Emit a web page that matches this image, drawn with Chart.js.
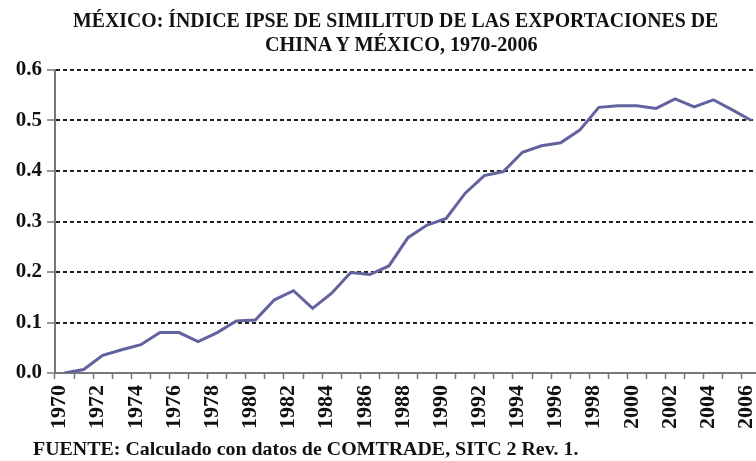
<!DOCTYPE html>
<html>
<head>
<meta charset="utf-8">
<script src="https://cdn.jsdelivr.net/npm/chart.js@4"></script>
<style>
  html, body { margin: 0; padding: 0; background: #fff; overflow: hidden; }
  #wrap { position: relative; width: 756px; height: 461px; overflow: hidden; }
  #chart-box { position: absolute; left: 0; top: 0; }
  .txt {
    position: absolute;
    font-family: "Liberation Serif", "Times New Roman", serif;
    font-weight: bold;
    color: #111;
    white-space: nowrap;
    transform-origin: 0 0;
  }
</style>
</head>
<body>
<div id="wrap">
  <div id="chart-box"><canvas id="ipseChart" width="784" height="461"></canvas></div>
  <div class="txt" id="title1" style="left:73px; top:10px; font-size:20px; line-height:20px;" data-w="645">MÉXICO: ÍNDICE IPSE DE SIMILITUD DE LAS EXPORTACIONES DE</div>
  <div class="txt" id="title2" style="left:265px; top:34px; font-size:20px; line-height:20px;" data-w="273">CHINA Y MÉXICO, 1970-2006</div>
  <div class="txt" id="source" style="left:33px; top:439px; font-size:19px; line-height:19px;" data-w="545">FUENTE: Calculado con datos de COMTRADE, SITC 2 Rev. 1.</div>
</div>
<script>
// data
const years = ["1970","1971","1972","1973","1974","1975","1976","1977","1978","1979",
  "1980","1981","1982","1983","1984","1985","1986","1987","1988","1989",
  "1990","1991","1992","1993","1994","1995","1996","1997","1998","1999",
  "2000","2001","2002","2003","2004","2005","2006"];
const ipse = [0.000, 0.007, 0.035, 0.046, 0.056, 0.080, 0.080, 0.062, 0.080, 0.103,
  0.105, 0.145, 0.163, 0.128, 0.158, 0.199, 0.195, 0.212, 0.268, 0.293,
  0.306, 0.356, 0.391, 0.399, 0.437, 0.450, 0.456, 0.481, 0.526, 0.529,
  0.529, 0.524, 0.543, 0.527, 0.541, 0.521, 0.500];
const yTicks = [0, 0.1, 0.2, 0.3, 0.4, 0.5, 0.6];

const serif = "'Liberation Serif', 'Times New Roman', serif";

// squeeze the html texts to the widths seen in the picture
document.querySelectorAll(".txt").forEach(el => {
  const w = parseFloat(el.dataset.w);
  el.style.transform = "scaleX(" + (w / el.offsetWidth) + ")";
});

new Chart(document.getElementById("ipseChart"), {
  type: "line",
  data: {
    labels: years,
    datasets: [{
      label: "IPSE",
      data: ipse,
      borderColor: "#62639e",
      borderWidth: 3,
      pointRadius: 0,
      fill: false,
      tension: 0
    }]
  },
  options: {
    responsive: false,
    devicePixelRatio: 1,
    animation: false,
    layout: { padding: { top: 70, right: 12, left: 0, bottom: 0 } },
    plugins: { legend: { display: false }, tooltip: { enabled: false } },
    scales: {
      x: {
        type: "category",
        offset: true,
        afterFit: s => { s.height = 88; },
        grid: {
          offset: true,
          drawOnChartArea: false,
          drawTicks: true,
          tickLength: 6,
          tickColor: "#777",
          tickWidth: 1.5
        },
        border: { color: "#777", width: 2 },
        ticks: {
          autoSkip: false,
          minRotation: 90,
          maxRotation: 90,
          padding: 6,
          labelOffset: -5,
          color: "#111",
          font: { family: serif, size: 22, weight: "bold" },
          callback: (v, i) => (i % 2 === 0 ? years[i] : "")
        }
      },
      y: {
        min: 0,
        max: 0.6,
        afterFit: s => { s.width = 55; },
        afterBuildTicks: s => { s.ticks = yTicks.map(v => ({ value: v })); },
        grid: {
          color: ctx => (ctx.tick && ctx.tick.value === 0 ? "rgba(0,0,0,0)" : "#222"),
          lineWidth: 2,
          tickColor: "#777",
          tickLength: 8,
          tickWidth: 1.5
        },
        border: { color: "#777", width: 2, dash: [4, 3] },
        ticks: {
          padding: 5,
          color: "#111",
          font: { family: serif, size: 21, weight: "bold" },
          callback: v => v.toFixed(1)
        }
      }
    }
  }
});
</script>
</body>
</html>
